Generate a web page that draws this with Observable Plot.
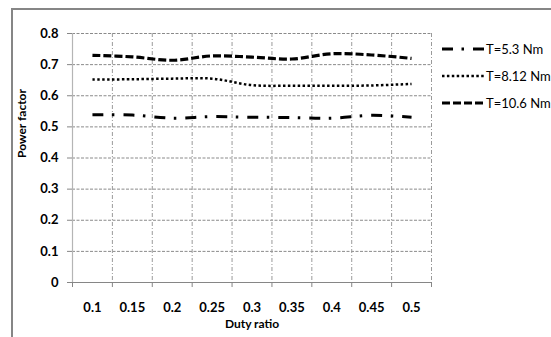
<!DOCTYPE html>
<html>
<head>
<meta charset="utf-8">
<script src="https://cdn.jsdelivr.net/npm/d3@7"></script>
<script src="https://cdn.jsdelivr.net/npm/@observablehq/plot@0.6"></script>
<style>
  html, body { margin: 0; padding: 0; background: #fff; overflow: hidden; }
  #chart svg { display: block; }
</style>
</head>
<body>
<div id="chart"></div>
<script>
// ---- data ----
const categories = [0.1, 0.15, 0.2, 0.25, 0.3, 0.35, 0.4, 0.45, 0.5];
const seriesNames = ["T=5.3 Nm", "T=8.12 Nm", "T=10.6 Nm"];
const t53  = [0.539, 0.538, 0.528, 0.533, 0.531, 0.530, 0.528, 0.537, 0.531];
const t812 = [0.652, 0.653, 0.655, 0.655, 0.634, 0.632, 0.632, 0.633, 0.638];
const t106 = [0.730, 0.725, 0.714, 0.728, 0.724, 0.718, 0.735, 0.731, 0.720];
const yTicks = [0, 0.1, 0.2, 0.3, 0.4, 0.5, 0.6, 0.7, 0.8];

// ---- build ----
const values = [t53, t812, t106];
const dashes = ["11,8.5,2.5,9", "2.5,2.4", "8,3"];
const widths = [3, 2.5, 3.2];
const step = categories[1] - categories[0];
const boundaries = [categories[0] - step / 2, ...categories.map(c => c + step / 2)];
const xDomain = [boundaries[0], boundaries[boundaries.length - 1]];

const lineMarks = values.map((vals, i) =>
  Plot.line(categories.map((c, j) => ({x: c, y: vals[j]})), {
    x: "x", y: "y", curve: "catmull-rom",
    stroke: "#000", strokeWidth: widths[i], strokeDasharray: dashes[i], strokeLinecap: "butt"
  })
);

const plot = Plot.plot({
  width: 551, height: 337,
  marginLeft: 72, marginRight: 120, marginTop: 33, marginBottom: 55,
  x: {type: "linear", domain: xDomain, label: null},
  y: {domain: [0, 0.8], label: null},
  style: {fontFamily: "Lato, 'Open Sans', sans-serif", fontSize: "13px", color: "#000", background: "#fff"},
  marks: [
    Plot.gridY(yTicks.slice(1), {stroke: "#8a8a8a", strokeOpacity: 1, strokeWidth: 1, strokeDasharray: "3,1.5"}),
    Plot.gridX(boundaries.slice(1), {stroke: "#9a9a9a", strokeOpacity: 1, strokeWidth: 1, strokeDasharray: "4,2,1,2"}),
    Plot.ruleX([xDomain[0]], {stroke: "#b5b5b5", strokeWidth: 1.2}),
    Plot.ruleY([0], {stroke: "#868686", strokeWidth: 1.2}),
    Plot.axisY(yTicks, {tickSize: 5, tickPadding: 9, stroke: "#868686", fill: "#000", fontWeight: "bold", fontSize: 13, label: null,
      tickFormat: d => d === 0 ? "0" : d.toFixed(1)}),
    Plot.axisX(boundaries, {tickSize: 5, stroke: "#868686", tickFormat: () => "", label: null}),
    Plot.axisX(categories, {tickSize: 0, tickPadding: 20, fill: "#000", fontWeight: "bold", fontSize: 13, label: null,
      tickFormat: d => String(d)}),
    ...lineMarks,
    Plot.text(["Duty ratio"], {frameAnchor: "bottom", dy: 45, fontWeight: "bold", fontSize: 12, fill: "#000"}),
    Plot.text(["Power factor"], {frameAnchor: "left", dx: -50, rotate: -90, fontWeight: "bold", fontSize: 12, fill: "#000"})
  ]
});

// chart area border (left and top edges visible) and legend
const svg = d3.select(plot);
svg.style("overflow", "hidden");
svg.insert("path", ":first-child")
  .attr("d", "M12,337V9H551")
  .attr("fill", "none").attr("stroke", "#868686").attr("stroke-width", 2);

const legendRows = [49, 76, 103];
const lg = svg.append("g").attr("text-anchor", "start");
seriesNames.forEach((name, i) => {
  lg.append("line")
    .attr("x1", 442).attr("x2", 484).attr("y1", legendRows[i]).attr("y2", legendRows[i])
    .attr("stroke", "#000").attr("stroke-width", widths[i]).attr("stroke-dasharray", dashes[i]);
  lg.append("text")
    .attr("x", 486).attr("y", legendRows[i]).attr("dy", "0.35em")
    .attr("text-anchor", "start")
    .attr("font-size", 13).attr("fill", "#000")
    .text(name);
});

document.getElementById("chart").appendChild(plot);
</script>
</body>
</html>
